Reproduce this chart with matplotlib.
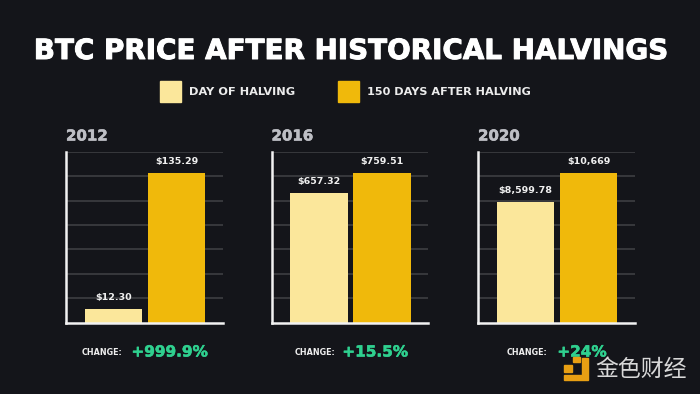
import matplotlib
matplotlib.use("Agg")
import matplotlib.pyplot as plt
import matplotlib.patheffects as pe
from matplotlib.patches import Polygon, Rectangle

W, H = 700, 394
BG = "#14151a"
LIGHT = "#fbe79b"
GOLD = "#f0b90b"
GRID = "#3e3e42"
GREEN = "#2fd08f"
LOGO = "#e89f13"
FONT = "DejaVu Sans"

years = ["2012", "2016", "2020"]
day_of = [12.30, 657.32, 8599.78]
after_150 = [135.29, 759.51, 10669]
day_labels = ["$12.30", "$657.32", "$8,599.78"]
after_labels = ["$135.29", "$759.51", "$10,669"]
changes = ["+999.9%", "+15.5%", "+24%"]
legend_labels = ["DAY OF HALVING", "150 DAYS AFTER HALVING"]


def px(x, y):
    return x / W, 1 - y / H


def heavy(color, w=0.4):
    # no montserrat here, so thicken the bold a little
    return [pe.withStroke(linewidth=w, foreground=color)]


fig = plt.figure(figsize=(7, 3.94), dpi=100, facecolor=BG)

fig.text(*px(350, 51), "BTC PRICE AFTER HISTORICAL HALVINGS", color="white",
         fontsize=20, fontweight="bold", family=FONT, ha="center", va="center",
         path_effects=heavy("white", 0.7))

# legend
fig.add_artist(Rectangle(px(160, 102), 21 / W, 21 / H, color=LIGHT, transform=fig.transFigure))
fig.add_artist(Rectangle(px(338, 102), 21 / W, 21 / H, color=GOLD, transform=fig.transFigure))
fig.text(*px(189, 92), legend_labels[0], color="#ececec", fontsize=8.2,
         fontweight="bold", family=FONT, va="center")
fig.text(*px(367, 92), legend_labels[1], color="#ececec", fontsize=8.1,
         fontweight="bold", family=FONT, va="center")

lefts = [66, 271.5, 478]
change_x = [(102, 169.5), (315, 375), (527, 582)]

for i, year in enumerate(years):
    left = lefts[i]
    ax = fig.add_axes([left / W, 1 - 322.5 / H, 157 / W, 170.5 / H], facecolor=BG)
    ymax = after_150[i] * 170.5 / 150
    ax.bar([0, 1], [day_of[i], after_150[i]], width=0.905, color=[LIGHT, GOLD], zorder=3)
    ax.set_xlim(-0.754, 1.738)
    ax.set_ylim(0, ymax)
    ax.set_yticks([ymax * k / 7 for k in range(1, 8)])
    ax.set_xticks([])
    ax.tick_params(left=False, labelleft=False)
    ax.grid(True, axis="y", color=GRID, linewidth=1.2, zorder=1)
    for s in ["top", "right"]:
        ax.spines[s].set_visible(False)
    for s in ["left", "bottom"]:
        ax.spines[s].set_color("#f2f2f2")
        ax.spines[s].set_linewidth(1.8)
        ax.spines[s].set_zorder(4)
    ax.annotate(day_labels[i], (0, day_of[i]), xytext=(0, 5), textcoords="offset points",
                color="#f0f0f0", fontsize=6.8, fontweight="bold", family=FONT,
                ha="center", va="bottom", zorder=5)
    ax.annotate(after_labels[i], (1, after_150[i]), xytext=(0, 5), textcoords="offset points",
                color="#f0f0f0", fontsize=6.8, fontweight="bold", family=FONT,
                ha="center", va="bottom", zorder=5)

    fig.text(*px(left, 136), year, color="#bdbec4", fontsize=10.8, fontweight="bold",
             family=FONT, va="center", path_effects=heavy("#bdbec4"))
    fig.text(*px(change_x[i][0], 352.5), "CHANGE:", color="#eeeeee", fontsize=5.8,
             fontweight="bold", family=FONT, ha="center", va="center")
    fig.text(*px(change_x[i][1], 352), changes[i], color=GREEN, fontsize=11,
             fontweight="bold", family=FONT, ha="center", va="center",
             path_effects=heavy(GREEN))

# watermark
logo = [(564, 375), (582, 375), (582, 358), (588, 358), (588, 380), (564, 380)]
fig.add_artist(Polygon([px(*p) for p in logo], closed=True, color=LOGO,
                       transform=fig.transFigure, zorder=6))
fig.add_artist(Rectangle(px(573, 362), 7 / W, 5 / H, color=LOGO,
                         transform=fig.transFigure, zorder=6))
fig.add_artist(Rectangle(px(564, 372), 8 / W, 7 / H, color=LOGO,
                         transform=fig.transFigure, zorder=6))
fig.text(*px(641, 369), "金色财经", color="#d8d8d8", fontsize=16.5, fontweight="light",
         family=["Noto Sans CJK SC", "DejaVu Sans"], ha="center", va="center", zorder=6)

fig.savefig("out.png", dpi=100, facecolor=BG)
